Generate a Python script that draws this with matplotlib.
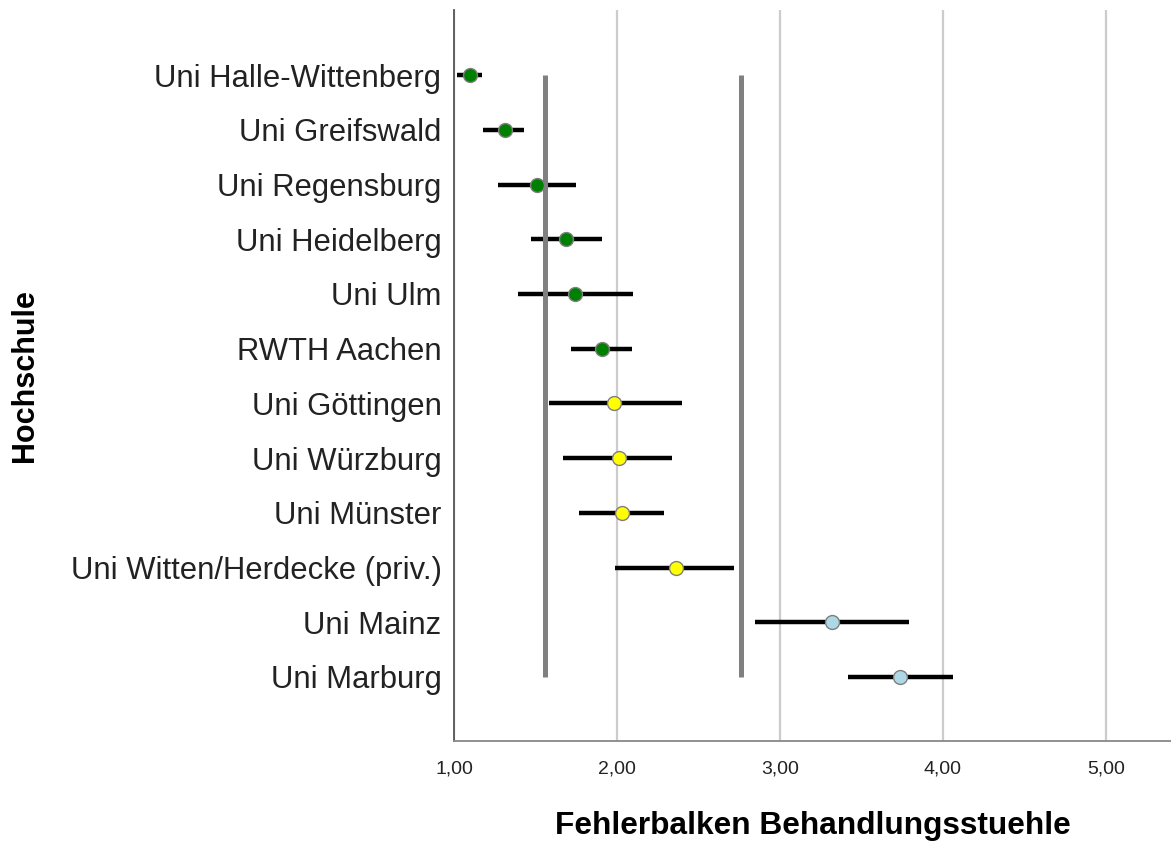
import matplotlib
matplotlib.use("Agg")
import matplotlib.pyplot as plt
from matplotlib.ticker import FuncFormatter

plt.rcParams['font.family'] = ['Liberation Sans', 'DejaVu Sans']

# Daten (von oben nach unten)
hochschulen = ['Uni Halle-Wittenberg', 'Uni Greifswald', 'Uni Regensburg',
               'Uni Heidelberg', 'Uni Ulm', 'RWTH Aachen', 'Uni Göttingen',
               'Uni Würzburg', 'Uni Münster', 'Uni Witten/Herdecke (priv.)',
               'Uni Mainz', 'Uni Marburg']
mittelwert = [1.10, 1.31, 1.51, 1.69, 1.74, 1.91, 1.98, 2.01, 2.03, 2.36, 3.32, 3.74]
untere = [1.02, 1.18, 1.27, 1.47, 1.39, 1.72, 1.58, 1.67, 1.77, 1.99, 2.85, 3.42]
obere = [1.17, 1.43, 1.75, 1.91, 2.10, 2.09, 2.40, 2.34, 2.29, 2.72, 3.79, 4.06]
gruppe = ['g', 'g', 'g', 'g', 'g', 'g', 'y', 'y', 'y', 'y', 'b', 'b']
grenzen = [1.56, 2.76]

farben = {'g': '#008000', 'y': '#ffff00', 'b': '#add8e6'}

fig = plt.figure(figsize=(11.71, 8.41), dpi=100)
ax = fig.add_axes([454 / 1171, 100 / 841, 717 / 1171, 731 / 841])

y = list(range(len(hochschulen)))

# Fehlerbalken
ax.hlines(y, untere, obere, color='black', linewidth=3.2, zorder=2)

# Trennlinien
ax.vlines(grenzen, 0, len(hochschulen) - 1, color='#808080', linewidth=3.6, zorder=3)

# Mittelwerte
for yi, m, g in zip(y, mittelwert, gruppe):
    ax.plot(m, yi, 'o', markersize=10, markerfacecolor=farben[g],
            markeredgecolor='#7f7f7f', markeredgewidth=1.0, zorder=4)

ax.set_xlim(1.0, 5.40)
ax.set_ylim(len(hochschulen) - 1 + 1.17, -1.19)
ax.set_yticks(y)
ax.set_yticklabels(hochschulen, fontsize=22.3, color='#222222')
ax.set_xticks([1, 2, 3, 4, 5])
ax.xaxis.set_major_formatter(FuncFormatter(lambda v, p: f'{v:.2f}'.replace('.', ',')))
ax.tick_params(axis='x', length=0, pad=14, labelsize=14, labelcolor='#222222')
ax.tick_params(axis='y', length=0, pad=9)

ax.grid(axis='x', color='#cccccc', linewidth=1.6, zorder=0)
ax.set_axisbelow(True)

for s in ['top', 'right']:
    ax.spines[s].set_visible(False)
ax.spines['left'].set_color('#555555')
ax.spines['left'].set_linewidth(1.3)
ax.spines['bottom'].set_color('#888888')
ax.spines['bottom'].set_linewidth(1.3)

ax.set_xlabel('Fehlerbalken Behandlungsstuehle', fontsize=22.8, fontweight='bold')
ax.xaxis.set_label_coords(0.5, -0.096)
ax.set_ylabel('Hochschule', fontsize=22, fontweight='bold')
ax.yaxis.set_label_coords(-0.577, 0.5)

fig.savefig('out.png', dpi=100)
